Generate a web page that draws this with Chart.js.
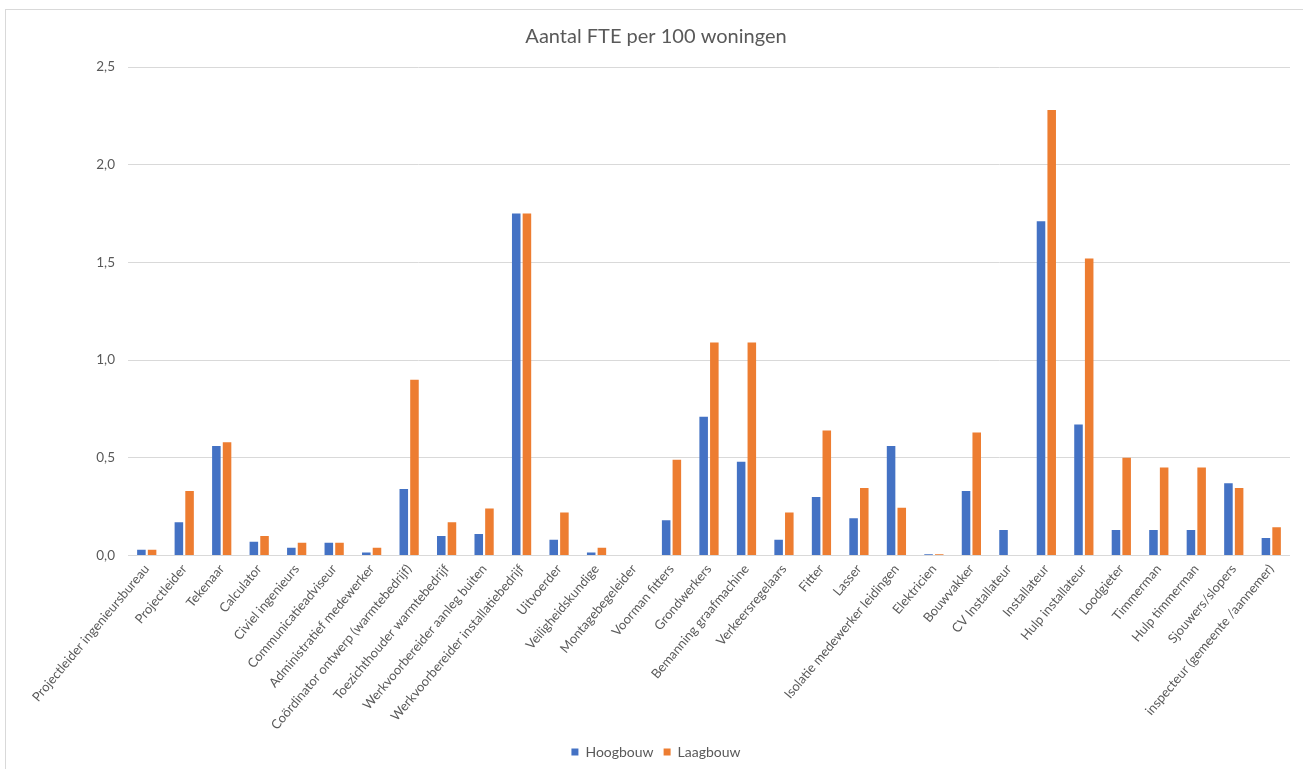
<!DOCTYPE html>
<html>
<head>
<meta charset="utf-8">
<title>Aantal FTE per 100 woningen</title>
<script src="https://cdn.jsdelivr.net/npm/chart.js@4.4.1/dist/chart.umd.min.js"></script>
<style>
  html, body { margin: 0; padding: 0; background: #ffffff; }
  #wrap { position: relative; width: 1303px; height: 769px; }
  #frame {
    position: absolute; left: 5px; top: 9px; right: 0; bottom: 0;
    border-top: 1px solid #D9D9D9; border-left: 1px solid #D9D9D9;
    pointer-events: none;
  }
  canvas { display: block; }
</style>
</head>
<body>
<div id="wrap">
  <canvas id="chart" width="1303" height="769"></canvas>
  <div id="frame"></div>
</div>
<script>
// Functies
const categories = [
  'Projectleider ingenieursbureau',
  'Projectleider',
  'Tekenaar',
  'Calculator',
  'Civiel ingenieurs',
  'Communicatieadviseur',
  'Administratief medewerker',
  'Coördinator ontwerp (warmtebedrijf)',
  'Toezichthouder warmtebedrijf',
  'Werkvoorbereider aanleg buiten',
  'Werkvoorbereider installatiebedrijf',
  'Uitvoerder',
  'Veiligheidskundige',
  'Montagebegeleider',
  'Voorman fitters',
  'Grondwerkers',
  'Bemanning graafmachine',
  'Verkeersregelaars',
  'Fitter',
  'Lasser',
  'Isolatie medewerker leidingen',
  'Elektricien',
  'Bouwvakker',
  'CV Installateur',
  'Installateur',
  'Hulp installateur',
  'Loodgieter',
  'Timmerman',
  'Hulp timmerman',
  'Sjouwers/slopers',
  'inspecteur (gemeente /aannemer)'
];

// FTE per 100 woningen, hoogbouw
const hoogbouw = [
  0.03, 0.17, 0.56, 0.07, 0.04, 0.065, 0.015, 0.34, 0.10, 0.11,
  1.75, 0.08, 0.015, 0, 0.18, 0.71, 0.48, 0.08, 0.30, 0.19,
  0.56, 0.007, 0.33, 0.13, 1.71, 0.67, 0.13, 0.13, 0.13, 0.37,
  0.09
];

// FTE per 100 woningen, laagbouw
const laagbouw = [
  0.03, 0.33, 0.58, 0.10, 0.065, 0.065, 0.04, 0.90, 0.17, 0.24,
  1.75, 0.22, 0.04, 0, 0.49, 1.09, 1.09, 0.22, 0.64, 0.345,
  0.245, 0.007, 0.63, 0, 2.28, 1.52, 0.50, 0.45, 0.45, 0.345,
  0.145
];

const yTicks = [0, 0.5, 1.0, 1.5, 2.0, 2.5];

const textColor = '#595959';
const gridColor = '#D9D9D9';
const fontFamily = 'Lato, "Open Sans", "Liberation Sans", sans-serif';

// Centre the title and legend over the frame rather than the canvas
const centerBlocks = {
  id: 'centerBlocks',
  afterLayout(chart) {
    const shift = 22;
    if (chart.titleBlock) chart.titleBlock.left = shift;
    if (chart.legend) chart.legend.left = shift;
  }
};

new Chart(document.getElementById('chart'), {
  type: 'bar',
  data: {
    labels: categories,
    datasets: [
      {
        label: 'Hoogbouw',
        data: hoogbouw,
        backgroundColor: '#4472C4',
        categoryPercentage: 0.57,
        barPercentage: 0.8
      },
      {
        label: 'Laagbouw',
        data: laagbouw,
        backgroundColor: '#ED7D31',
        categoryPercentage: 0.57,
        barPercentage: 0.8
      }
    ]
  },
  plugins: [centerBlocks],
  options: {
    responsive: false,
    animation: false,
    devicePixelRatio: 1,
    layout: { padding: { top: 15, right: 13, left: 0, bottom: 0 } },
    plugins: {
      title: {
        display: true,
        text: 'Aantal FTE per 100 woningen',
        color: textColor,
        font: { family: fontFamily, size: 20, weight: 'normal' },
        padding: { top: 10, bottom: 18 }
      },
      legend: {
        position: 'bottom',
        labels: {
          color: textColor,
          font: { family: fontFamily, size: 14 },
          boxWidth: 7,
          boxHeight: 7,
          padding: 10
        }
      },
      tooltip: { enabled: false }
    },
    scales: {
      x: {
        grid: { display: false, drawTicks: false },
        border: { display: false },
        ticks: {
          color: textColor,
          font: { family: fontFamily, size: 13 },
          minRotation: 50,
          maxRotation: 50,
          autoSkip: false,
          padding: 6
        },
        afterFit: (scale) => { scale.height = 179.5; }
      },
      y: {
        min: 0,
        max: 2.5,
        grid: { color: gridColor, drawTicks: false, lineWidth: 1 },
        border: { display: false },
        afterBuildTicks: (scale) => {
          scale.ticks = yTicks.map(v => ({ value: v }));
        },
        ticks: {
          color: textColor,
          font: { family: fontFamily, size: 13.5 },
          padding: 13,
          callback: (v) => Number(v).toFixed(1).replace('.', ',')
        },
        afterFit: (scale) => { scale.width = 128; }
      }
    }
  }
});
</script>
</body>
</html>
